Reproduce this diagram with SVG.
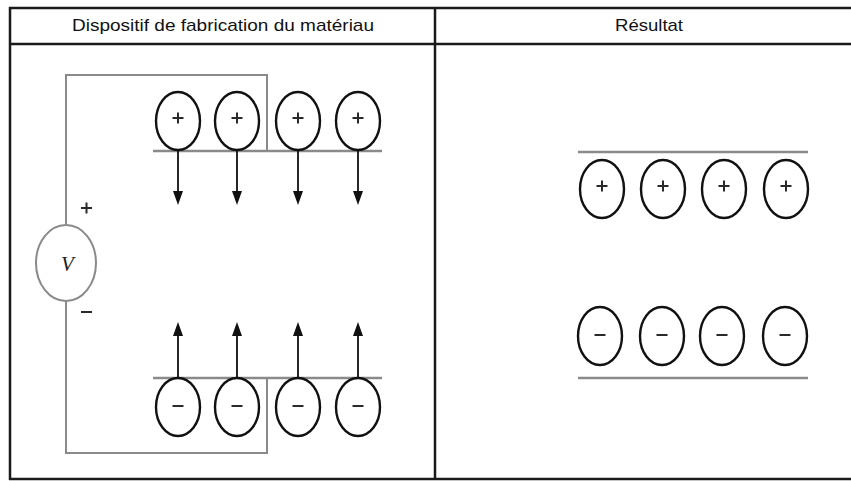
<svg xmlns="http://www.w3.org/2000/svg" width="851" height="481" viewBox="0 0 851 481">
  <style>
    .grid { stroke: #1a1a1a; stroke-width: 2.5; fill: none; }
    .wire { stroke: #8a8a8a; stroke-width: 2; fill: none; }
    .plate { stroke: #8a8a8a; stroke-width: 2.5; fill: none; }
    .ion { stroke: #111; stroke-width: 2.4; fill: #fff; }
    .sign { stroke: #2a2a2a; stroke-width: 2; fill: none; }
    .shaft { stroke: #111; stroke-width: 1.8; fill: none; }
    .tip { fill: #111; }
    .hdr { font-family: "Liberation Sans", Arial, sans-serif; font-size: 17px; fill: #111; text-anchor: middle; }
    .src { stroke: #8a8a8a; stroke-width: 2; fill: #fff; }
  </style>
  <defs>
    <g id="pos">
      <ellipse class="ion" cx="0" cy="0" rx="22" ry="29"/>
      <path class="sign" d="M-5.5,-3 h11 M0,-8.5 v11"/>
    </g>
    <g id="neg">
      <ellipse class="ion" cx="0" cy="0" rx="22" ry="29"/>
      <path class="sign" d="M-5.5,-1 h11"/>
    </g>
    <path id="down" class="tip" d="M-5,-14 L5,-14 L0,0 z"/>
    <path id="up" class="tip" d="M-5,14 L5,14 L0,0 z"/>
  </defs>

  <!-- table frame -->
  <g id="table">
    <path class="grid" d="M9,8 H851 M9,44 H851 M10,7 V480 M435,8 V480 M9,479 H851"/>
    <text class="hdr" x="223" y="31" textLength="302" lengthAdjust="spacingAndGlyphs">Dispositif de fabrication du matériau</text>
    <text class="hdr" x="649" y="31" textLength="68" lengthAdjust="spacingAndGlyphs">Résultat</text>
  </g>

  <!-- circuit wiring, plates and drift arrows -->
  <g id="connectors">
    <path class="wire" d="M66,225 V75 H267 V151"/>
    <path class="wire" d="M66,301 V453 H267 V378"/>
    <path class="plate" d="M153,151 H382"/>
    <path class="plate" d="M153,378 H382"/>
    <path class="shaft" d="M178,151 V195 M237,151 V195 M298,151 V195 M358,151 V195"/>
    <use href="#down" x="178" y="205"/>
    <use href="#down" x="237" y="205"/>
    <use href="#down" x="298" y="205"/>
    <use href="#down" x="358" y="205"/>
    <path class="shaft" d="M178,378 V333 M237,378 V333 M298,378 V333 M358,378 V333"/>
    <use href="#up" x="178" y="322"/>
    <use href="#up" x="237" y="322"/>
    <use href="#up" x="298" y="322"/>
    <use href="#up" x="358" y="322"/>
    <path class="plate" d="M578,152 H808"/>
    <path class="plate" d="M578,378 H808"/>
  </g>

  <!-- voltage source -->
  <g id="source">
    <ellipse class="src" cx="66" cy="263" rx="30" ry="38"/>
    <text x="61" y="271" font-family="'Liberation Serif', 'Times New Roman', serif" font-style="italic" font-size="21" fill="#222">V</text>
    <path class="sign" d="M81,208 h11 M86.5,202.5 v11"/>
    <path class="sign" d="M81,312 h11"/>
  </g>

  <!-- positive ions, upper plate -->
  <g id="pos-left">
    <use href="#pos" x="178" y="121"/>
    <use href="#pos" x="237" y="121"/>
    <use href="#pos" x="298" y="121"/>
    <use href="#pos" x="358" y="121"/>
  </g>
  <!-- negative ions, lower plate -->
  <g id="neg-left">
    <use href="#neg" x="178" y="407"/>
    <use href="#neg" x="237" y="407"/>
    <use href="#neg" x="298" y="407"/>
    <use href="#neg" x="358" y="407"/>
  </g>

  <!-- resulting charge layers -->
  <g id="pos-right">
    <use href="#pos" x="602" y="189"/>
    <use href="#pos" x="663" y="189"/>
    <use href="#pos" x="724" y="189"/>
    <use href="#pos" x="786" y="189"/>
  </g>
  <g id="neg-right">
    <use href="#neg" x="600" y="336"/>
    <use href="#neg" x="662" y="336"/>
    <use href="#neg" x="722" y="336"/>
    <use href="#neg" x="785" y="336"/>
  </g>
</svg>
